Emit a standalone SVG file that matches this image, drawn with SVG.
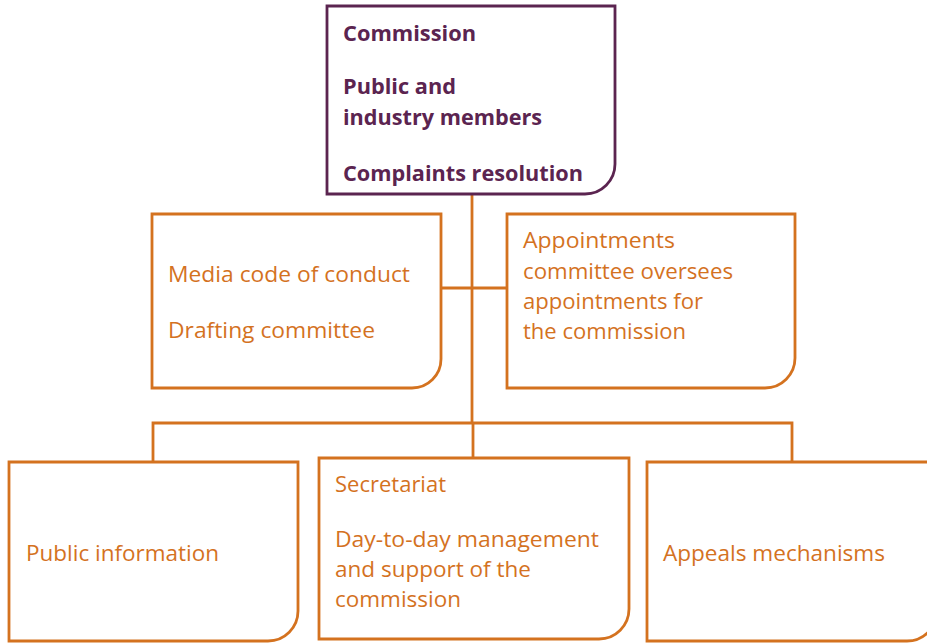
<svg xmlns="http://www.w3.org/2000/svg" width="927" height="643" viewBox="0 0 927 643">
<style>
.box{fill:#fff;stroke:#d4721f;stroke-width:2.8}
.top{fill:#fff;stroke:#5b2450;stroke-width:2.8}
.ln{fill:none;stroke:#d4721f;stroke-width:2.8}
.t{font-family:"Open Sans","Noto Sans",sans-serif;font-size:22.5px;fill:#d4721f}
.b{font-family:"Open Sans","Noto Sans",sans-serif;font-size:22px;font-weight:bold;fill:#5b2450}
</style>
<rect width="927" height="643" fill="#fff"/>
<g id="connectors">
<path class="ln" d="M472 194 V423"/>
<path class="ln" d="M441 288 H508"/>
<path class="ln" d="M153 462 V423 H792 V462"/>
<path class="ln" d="M473 423 V458"/>
</g>
<g id="commission">
<path class="top" d="M327 6 H615 V164 A30 30 0 0 1 585 194 H327 Z"/>
<text class="b" x="343" y="41" textLength="133" lengthAdjust="spacingAndGlyphs">Commission</text>
<text class="b" x="343" y="94" textLength="113" lengthAdjust="spacingAndGlyphs">Public and</text>
<text class="b" x="343" y="125" textLength="199" lengthAdjust="spacingAndGlyphs">industry members</text>
<text class="b" x="343" y="181" textLength="240" lengthAdjust="spacingAndGlyphs">Complaints resolution</text>
</g>
<g id="media">
<path class="box" d="M152 214 H441 V359 A29 29 0 0 1 412 388 H152 Z"/>
<text class="t" x="168" y="282" textLength="242" lengthAdjust="spacingAndGlyphs">Media code of conduct</text>
<text class="t" x="168" y="338" textLength="207" lengthAdjust="spacingAndGlyphs">Drafting committee</text>
</g>
<g id="appointments">
<path class="box" d="M507 214 H795 V358 A30 30 0 0 1 765 388 H507 Z"/>
<text class="t" x="523" y="248" textLength="152" lengthAdjust="spacingAndGlyphs">Appointments</text>
<text class="t" x="523" y="279" textLength="210" lengthAdjust="spacingAndGlyphs">committee oversees</text>
<text class="t" x="523" y="309" textLength="180" lengthAdjust="spacingAndGlyphs">appointments for</text>
<text class="t" x="523" y="339" textLength="163" lengthAdjust="spacingAndGlyphs">the commission</text>
</g>
<g id="public-information">
<path class="box" d="M9 462 H298 V611 A30 30 0 0 1 268 641 H9 Z"/>
<text class="t" x="26" y="561" textLength="193" lengthAdjust="spacingAndGlyphs">Public information</text>
</g>
<g id="secretariat">
<path class="box" d="M319 458 H629 V609 A30 30 0 0 1 599 639 H319 Z"/>
<text class="t" x="335" y="492" textLength="111" lengthAdjust="spacingAndGlyphs">Secretariat</text>
<text class="t" x="335" y="547" textLength="264" lengthAdjust="spacingAndGlyphs">Day-to-day management</text>
<text class="t" x="335" y="577" textLength="196" lengthAdjust="spacingAndGlyphs">and support of the</text>
<text class="t" x="335" y="607" textLength="126" lengthAdjust="spacingAndGlyphs">commission</text>
</g>
<g id="appeals">
<path class="box" d="M647 462 H937 V611 A30 30 0 0 1 907 641 H647 Z"/>
<text class="t" x="663" y="561" textLength="222" lengthAdjust="spacingAndGlyphs">Appeals mechanisms</text>
</g>
</svg>
